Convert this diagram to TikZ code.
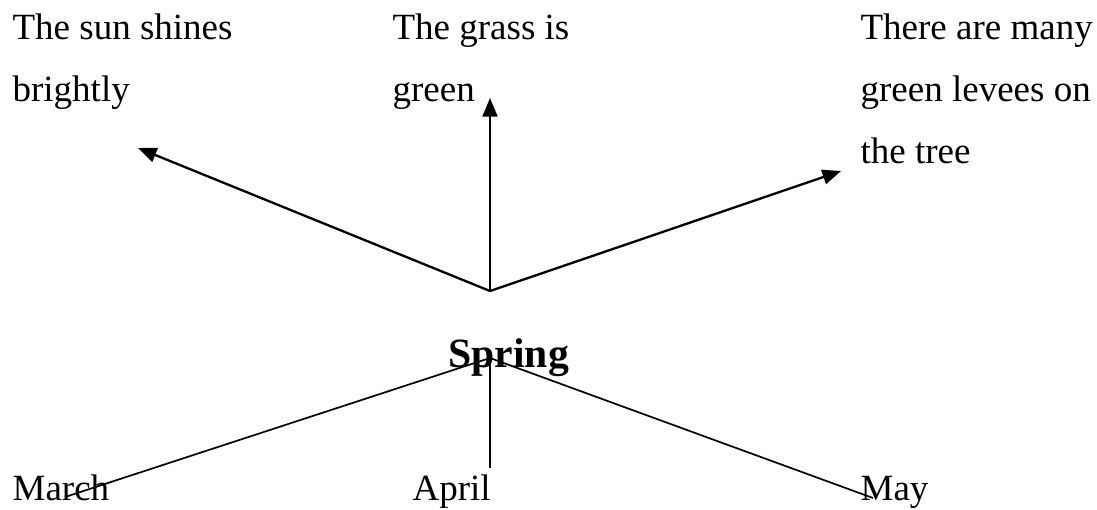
\documentclass[tikz,border=0pt]{standalone}
\usepackage{fontspec}
\setmainfont{Liberation Serif}
\usetikzlibrary{arrows.meta}

\begin{document}
\begin{tikzpicture}[x = 0.3243pt, y = -0.3243pt, >={Triangle[length=6pt, width=4.8pt]},
		txt/.style = {anchor = base west, inner sep = 0pt, align = left, font = \fontsize{12}{19.95}\selectfont},
		spoke/.style = {line width = 0.75pt, ->},
		leg/.style = {line width = 0.55pt}]
		\useasboundingbox (0,0) rectangle (1097,509);
		% sentences on top (base = last line)
		\node[txt] (sun) at (12,101) {The sun shines\\brightly};
		\node[txt] (grass) at (392,101) {The grass is\\green};
		\node[txt] (tree) at (860,163) {There are many\\green levees on\\the tree};
		% months below
		\node[txt] (march) at (12,500) {March};
		\node[txt] (april) at (412,500) {April};
		\node[txt] (may) at (860,500) {May};
		\node[txt, font = \fontsize{13.5}{16}\selectfont\bfseries] (spring) at (448,367) {Spring};

		\coordinate (top) at (490,291);
		\coordinate (sunTip) at (138,148);
		\coordinate (grassTip) at (490,98);
		\coordinate (treeTip) at (841,171);
		\draw[spoke] (top) -- (sunTip);
		\draw[spoke] (top) -- (grassTip);
		\draw[spoke] (top) -- (treeTip);

		\coordinate (hub) at (490,358);
		\coordinate (marchEnd) at (65,497);
		\coordinate (aprilEnd) at (490,468);
		\coordinate (mayEnd) at (873,498);
		\draw[leg] (marchEnd) -- (hub) -- (mayEnd);
		\draw[leg] (hub) -- (aprilEnd);
	\end{tikzpicture}
\end{document}
